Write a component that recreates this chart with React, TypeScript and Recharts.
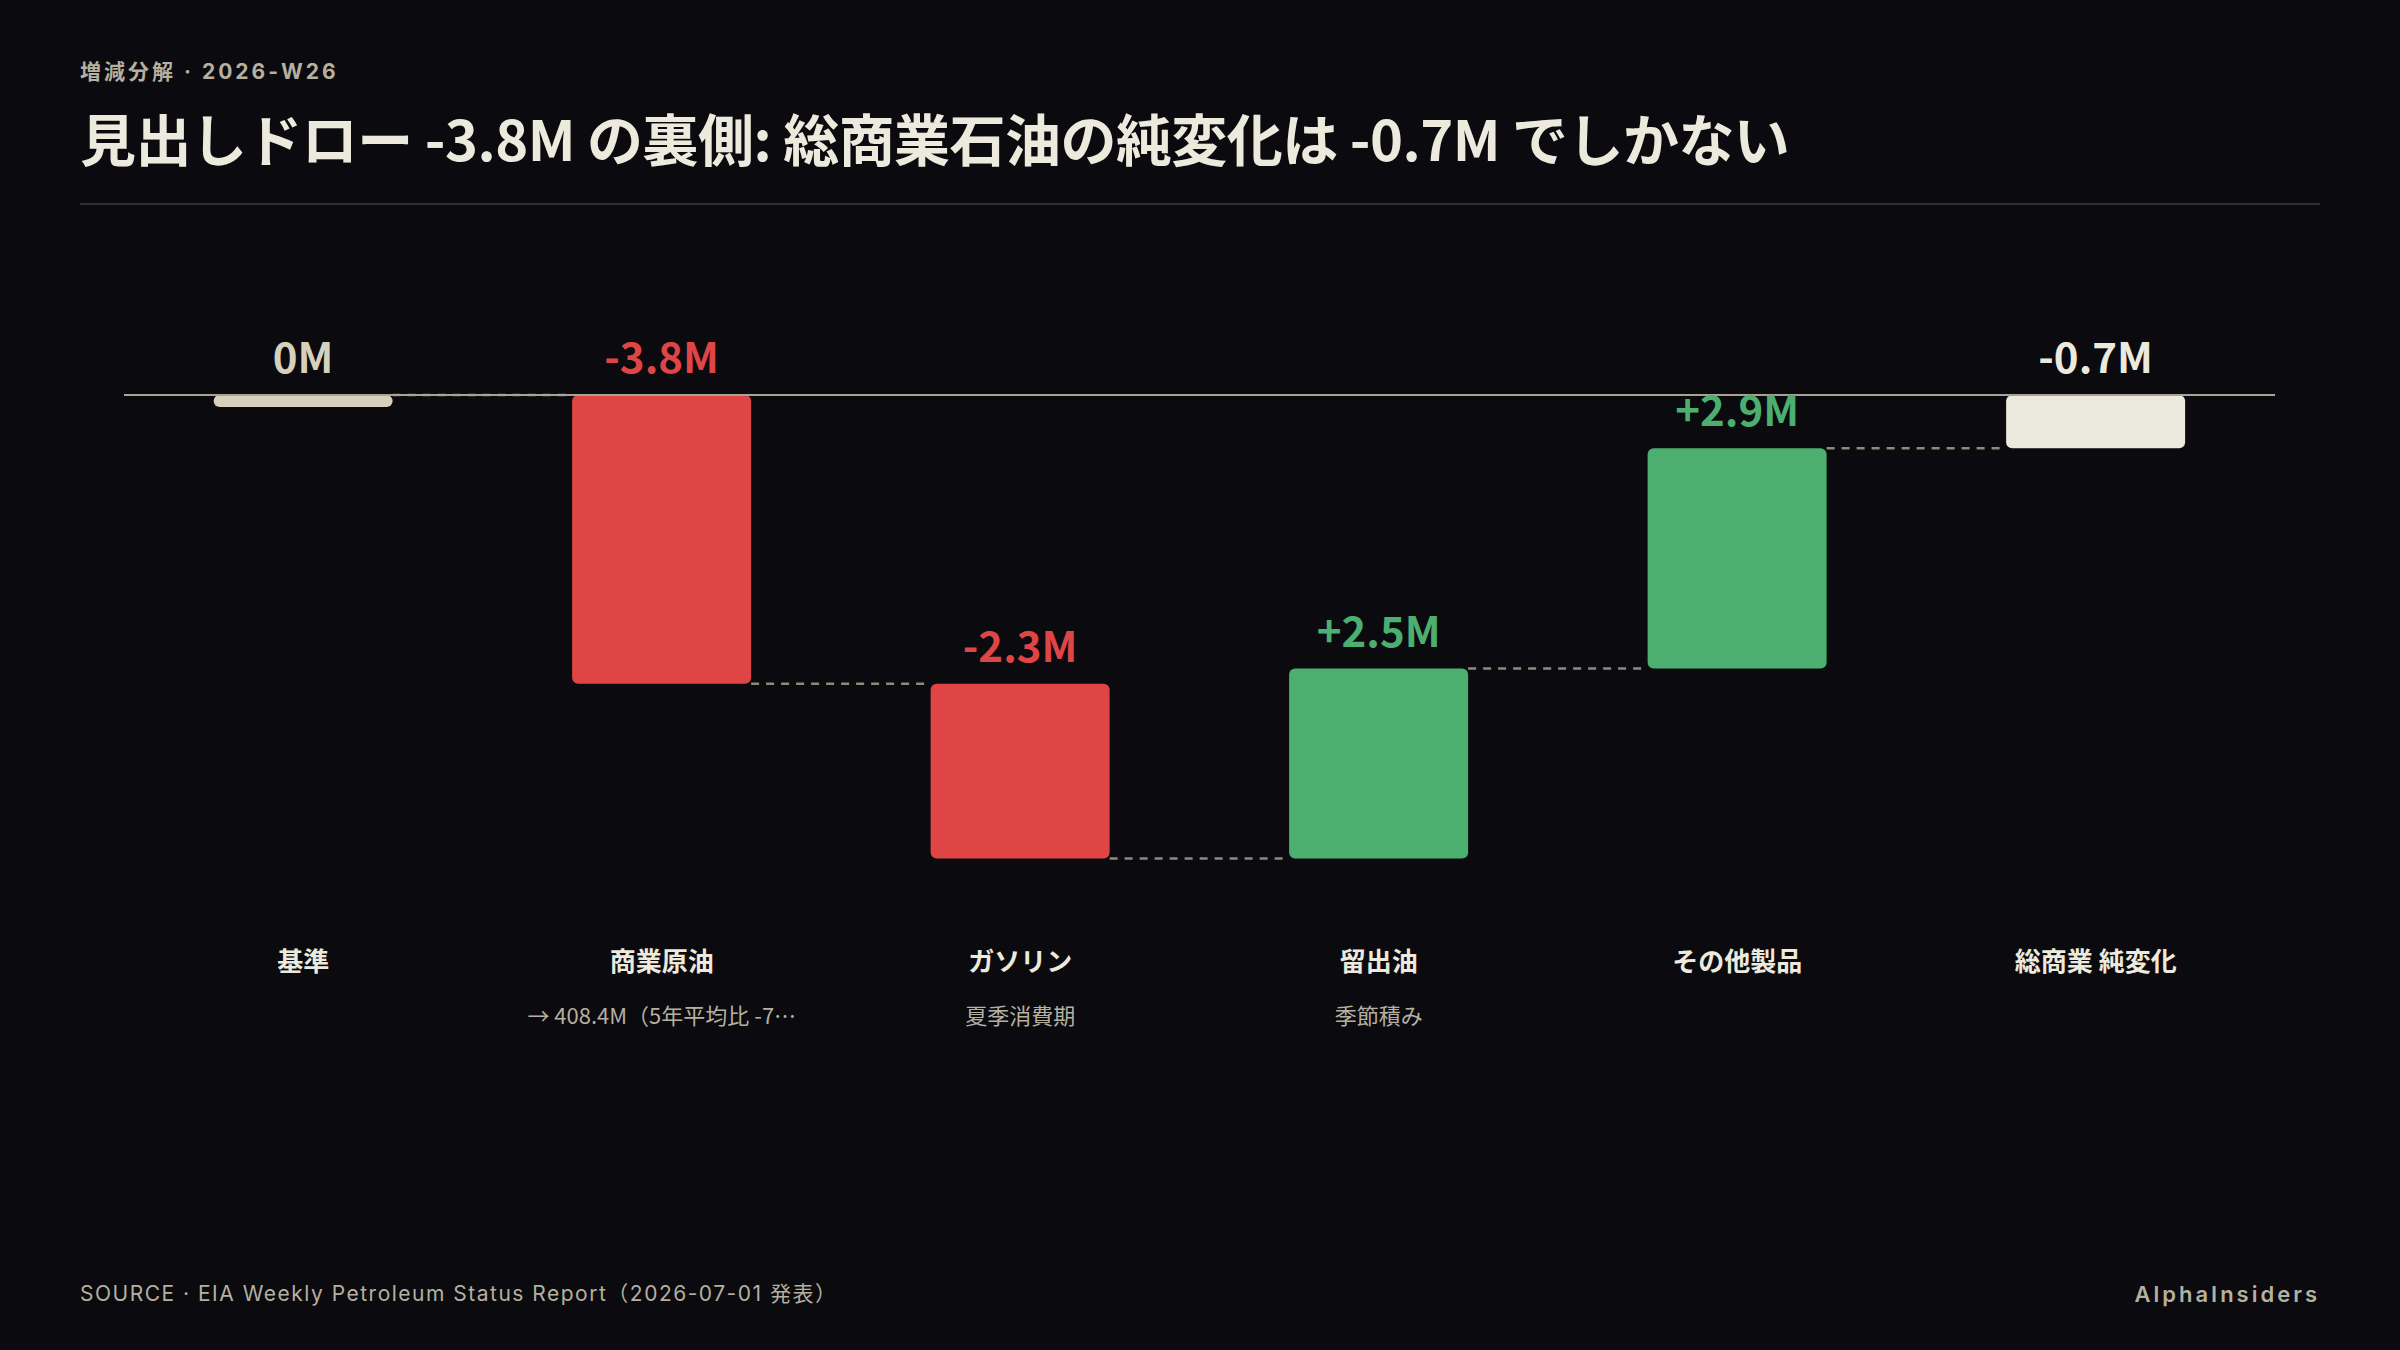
import React from 'react';
import { BarChart, Bar, XAxis, YAxis, ReferenceLine, LabelList } from 'recharts';

const CATEGORIES = ['基準', '商業原油', 'ガソリン', '留出油', 'その他製品', '総商業 純変化'];
const NOTES = ['', '→ 408.4M（5年平均比 -7…', '夏季消費期', '季節積み', '', ''];
const DELTAS = [0, -3.8, -2.3, 2.5, 2.9, -0.7];
const KINDS = ['base', 'delta', 'delta', 'delta', 'delta', 'total'];
const VALUE_LABELS = ['0M', '-3.8M', '-2.3M', '+2.5M', '+2.9M', '-0.7M'];

const C = {
  bg: '#0a0a0f',
  text: '#ece9dd',
  muted: '#b5b09f',
  red: '#e04546',
  green: '#4caf70',
  base: '#d6d0bd',
  total: '#ece9dd',
  zero: '#a8a392',
  connector: '#8f8a7a',
  rule: '#2f2f34',
};

const FONT = "'Noto Sans CJK JP', 'Noto Sans', sans-serif";
const LATIN = "Inter, 'Noto Sans CJK JP', sans-serif";

// running levels -> [low, high] ranges for the waterfall
let level = 0;
const data = CATEGORIES.map((name, i) => {
  const kind = KINDS[i];
  const d = DELTAS[i];
  let start = level;
  let end = level + d;
  if (kind === 'total') {
    start = 0;
    end = d;
  } else {
    level = end;
  }
  return {
    name,
    kind,
    delta: d,
    label: VALUE_LABELS[i],
    range: [Math.min(start, end), Math.max(start, end)],
  };
});

const barColor = (i: number) => {
  const e = data[i];
  if (e.kind === 'base') return C.base;
  if (e.kind === 'total') return C.total;
  return e.delta < 0 ? C.red : C.green;
};

const WaterfallShape = (props: any) => {
  const { x, y, width, height, index } = props;
  const e = data[index];
  const top = Math.min(y, y + height);
  const h = Math.abs(height);
  const isBase = e.kind === 'base';
  const drawH = isBase ? 12 : h;
  const levelY = e.delta < 0 && !isBase ? top + h : top;
  const hasNext = index < data.length - 1;
  return (
    <g>
      <rect x={x} y={top} width={width} height={drawH} rx={6} fill={barColor(index)} />
      {hasNext && (
        <g>
          <line x1={x + width} x2={x + width * 2} y1={levelY} y2={levelY} stroke={C.bg} strokeWidth={3} />
          <line
            x1={x + width}
            x2={x + width * 2}
            y1={levelY}
            y2={levelY}
            stroke={C.connector}
            strokeWidth={2.5}
            strokeDasharray="8 7"
          />
        </g>
      )}
    </g>
  );
};

const ValueLabel = (props: any) => {
  const vb = props.viewBox && props.viewBox.width != null ? props.viewBox : props;
  const { x, y, width, height } = vb;
  const i = props.index;
  const top = Math.min(y, y + height);
  const e = data[i];
  const fill = e.kind === 'base' ? C.base : barColor(i);
  return (
    <text x={x + width / 2} y={top - 22} textAnchor="middle" fill={fill} fontSize={42} fontWeight={700} fontFamily={FONT}>
      {e.label}
    </text>
  );
};

const CategoryTick = (props: any) => {
  const { x, y, payload } = props;
  const i = payload.index;
  return (
    <g>
      <text x={x} y={y + 44} textAnchor="middle" fill={C.text} fontSize={26} fontWeight={700} fontFamily={FONT}>
        {payload.value}
      </text>
      {NOTES[i] ? (
        <text x={x} y={y + 97} textAnchor="middle" fill={C.muted} fontSize={22} fontFamily={FONT}>
          {NOTES[i]}
        </text>
      ) : null}
    </g>
  );
};

export default function App() {
  return (
    <div style={{ position: 'absolute', left: 0, top: 0, width: 2400, height: 1350, background: C.bg, overflow: 'hidden' }}>
      <div style={{ position: 'absolute', left: 0, top: 0 }}>
        <BarChart
          width={2400}
          height={1350}
          data={data}
          margin={{ top: 319, right: 125, bottom: 303, left: 124 }}
          barCategoryGap="25%"
        >
          <XAxis
            dataKey="name"
            axisLine={false}
            tickLine={false}
            tickSize={0}
            tickMargin={0}
            height={120}
            interval={0}
            tick={<CategoryTick />}
          />
          <YAxis hide type="number" domain={[-7, 1]} />
          <ReferenceLine y={0} stroke={C.zero} strokeWidth={2} />
          <Bar dataKey="range" shape={<WaterfallShape />} isAnimationActive={false}>
            <LabelList dataKey="label" content={<ValueLabel />} />
          </Bar>
        </BarChart>
      </div>
      <svg width={2400} height={1350} style={{ position: 'absolute', left: 0, top: 0, pointerEvents: 'none' }}>
        <text x={80} y={79} fill={C.muted} fontSize={21} fontWeight={700} letterSpacing={3} fontFamily={LATIN}>
          増減分解 · 2026-W26
        </text>
        <text x={80} y={161} fill={C.text} fontSize={56} fontWeight={700} letterSpacing={-0.55} fontFamily={FONT}>
          見出しドロー -3.8M の裏側: 総商業石油の純変化は -0.7M でしかない
        </text>
        <rect x={80} y={203} width={2240} height={2} fill={C.rule} />
        <text x={80} y={1301} fill={C.muted} fontSize={21} letterSpacing={1.5} fontFamily={LATIN}>
          SOURCE · EIA Weekly Petroleum Status Report（2026-07-01 発表）
        </text>
        <text x={2320} y={1302} textAnchor="end" fill={C.muted} fontSize={22} fontWeight={600} letterSpacing={3} fontFamily={LATIN}>
          AlphaInsiders
        </text>
      </svg>
    </div>
  );
}
